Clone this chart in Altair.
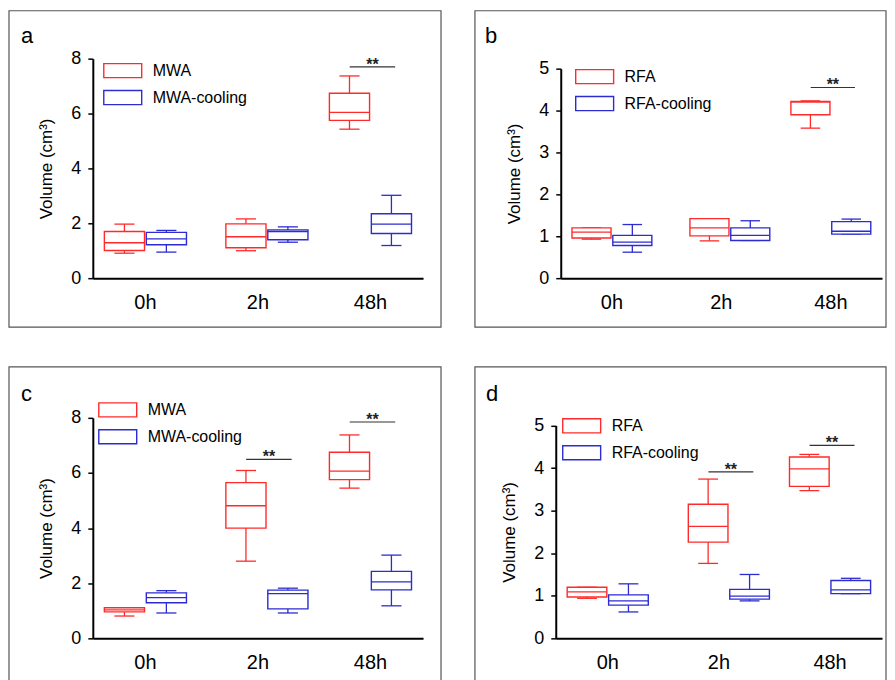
import altair as alt
import pandas as pd

TIMES = ["0h", "2h", "48h"]
MWA_GROUPS = ["MWA", "MWA-cooling"]
RFA_GROUPS = ["RFA", "RFA-cooling"]
COLORS = ["#ff2b2b", "#2c2cd2"]
FONT = "Liberation Sans"

# order of boxes: 0h g1, 0h g2, 2h g1, 2h g2, 48h g1, 48h g2
A_LO = [0.91, 0.95, 1.00, 1.31, 5.43, 1.19]
A_Q1 = [1.01, 1.22, 1.11, 1.40, 5.75, 1.63]
A_MED = [1.29, 1.43, 1.51, 1.70, 6.04, 1.97]
A_Q3 = [1.70, 1.67, 1.98, 1.76, 6.74, 2.35]
A_HI = [1.97, 1.74, 2.16, 1.87, 7.37, 3.02]
A_SIG_T = ["48h"]
A_SIG_Y = [7.70]

B_LO = [0.93, 0.62, 0.89, 0.90, 3.58, 1.05]
B_Q1 = [0.96, 0.78, 1.01, 0.90, 3.90, 1.05]
B_MED = [1.10, 0.86, 1.20, 1.02, 4.20, 1.12]
B_Q3 = [1.20, 1.02, 1.42, 1.20, 4.22, 1.35]
B_HI = [1.20, 1.28, 1.42, 1.37, 4.23, 1.41]
B_SIG_T = ["48h"]
B_SIG_Y = [4.55]

C_LO = [0.81, 0.92, 2.80, 0.92, 5.45, 1.18]
C_Q1 = [0.96, 1.29, 4.00, 1.07, 5.76, 1.76]
C_MED = [1.03, 1.48, 4.81, 1.62, 6.07, 2.05]
C_Q3 = [1.11, 1.65, 5.65, 1.75, 6.75, 2.43]
C_HI = [1.11, 1.73, 6.09, 1.82, 7.38, 3.02]
C_SIG_T = ["2h", "48h"]
C_SIG_Y = [6.49, 7.85]

D_LO = [0.94, 0.62, 1.76, 0.88, 3.47, 1.05]
D_Q1 = [0.97, 0.78, 2.26, 0.92, 3.57, 1.05]
D_MED = [1.09, 0.88, 2.63, 0.99, 3.98, 1.14]
D_Q3 = [1.20, 1.02, 3.15, 1.15, 4.26, 1.36]
D_HI = [1.20, 1.28, 3.74, 1.50, 4.32, 1.41]
D_SIG_T = ["2h", "48h"]
D_SIG_Y = [3.91, 4.53]

A_TICKS = [0, 2, 4, 6, 8]
B_TICKS = [0, 1, 2, 3, 4, 5]

RECT_PATH = "M-1,-0.37H1V0.37H-1Z"


def offset_expr(base_dx, shift_2h):
    return {"expr": f"datum.time === '2h' ? {base_dx + shift_2h:.2f} : {base_dx:.2f}"}


def panel(letter, groups, lo, q1, med, q3, hi, sig_t, sig_y, yticks,
          w, h, ytop, frame, leg, title_dx, title_off, shift_2h):
    rows = []
    for i, t in enumerate(TIMES):
        for j, g in enumerate(groups):
            k = i * 2 + j
            rows.append(dict(time=t, group=g, lo=lo[k], q1=q1[k], med=med[k],
                             q3=q3[k], hi=hi[k]))
    df = pd.DataFrame(rows)
    sig = pd.DataFrame({"time": sig_t, "y": sig_y})
    ymax = yticks[-1]

    x = alt.X("time:N",
              scale=alt.Scale(domain=TIMES, paddingInner=0.265, paddingOuter=0.1),
              axis=alt.Axis(title=None, ticks=False, labelAngle=0,
                            labelFontSize=20, labelPadding=14,
                            domainWidth=2, domainColor="black",
                            labelColor="black", labelFont=FONT))
    yscale = alt.Scale(domain=[0, ymax], nice=False, zero=True,
                       range=[h, ytop])
    yaxis = alt.Axis(title="Volume (cm³)", values=yticks, grid=False,
                     tickSize=5, tickWidth=1.5, tickColor="black",
                     domainWidth=2, domainColor="black",
                     labelFontSize=18, labelPadding=7, labelColor="black",
                     labelFont=FONT,
                     titleFontSize=17, titleFontWeight="normal", titleFont=FONT,
                     titleColor="black", titlePadding=15)
    stroke = alt.Stroke("group:N",
                        scale=alt.Scale(domain=groups, range=COLORS),
                        legend=alt.Legend(
                            title=None, orient="none",
                            legendX=leg[0], legendY=leg[1],
                            symbolType=RECT_PATH, symbolSize=1444,
                            symbolStrokeWidth=1.4,
                            symbolFillColor="white",
                            labelFontSize=16, labelFont=FONT,
                            labelColor="black", labelOffset=10,
                            clipHeight=27, rowPadding=0, padding=0))
    color = alt.Color("group:N", scale=alt.Scale(domain=groups, range=COLORS),
                      legend=None)

    band = w / 2.935 * 0.735          # width of one time group in px
    box_w = band / 2 - 1.2
    shift = band / 4 + 0.3
    layers = []
    for j, g in enumerate(groups):
        dx = offset_expr(-shift if j == 0 else shift, shift_2h)
        base = alt.Chart(df).transform_filter(alt.datum.group == g)
        layers += [
            base.mark_rule(strokeWidth=1.3, xOffset=dx).encode(
                x=x, y=alt.Y("lo:Q", scale=yscale, axis=yaxis),
                y2="q1:Q", color=color),
            base.mark_rule(strokeWidth=1.3, xOffset=dx).encode(
                x=x, y=alt.Y("q3:Q", scale=yscale), y2="hi:Q", color=color),
            base.mark_tick(size=box_w / 2, thickness=1.3, opacity=1,
                           xOffset=dx).encode(
                x=x, y=alt.Y("lo:Q", scale=yscale), color=color),
            base.mark_tick(size=box_w / 2, thickness=1.3, opacity=1,
                           xOffset=dx).encode(
                x=x, y=alt.Y("hi:Q", scale=yscale), color=color),
            base.mark_bar(strokeWidth=1.4, width=box_w, xOffset=dx,
                          fill="white").encode(
                x=x, y=alt.Y("q1:Q", scale=yscale), y2="q3:Q",
                stroke=stroke),
            base.mark_tick(size=box_w, thickness=1.3, opacity=1,
                           xOffset=dx).encode(
                x=x, y=alt.Y("med:Q", scale=yscale), color=color),
        ]

    sdx = offset_expr(2, shift_2h)
    sbase = alt.Chart(sig)
    sline = sbase.mark_tick(size=band * 0.55, thickness=1.2, opacity=1,
                            color="#333333", xOffset=sdx).encode(
        x=x, y=alt.Y("y:Q", scale=yscale))
    stext = sbase.mark_text(text="**", fontSize=16, fontWeight="bold",
                            font=FONT, color="#222222", baseline="alphabetic",
                            dy=3, xOffset=sdx).encode(
        x=x, y=alt.Y("y:Q", scale=yscale))

    fl, ft, fr, fb = frame
    frame_rect = alt.Chart(alt.Data(values=[{"k": 1}])).mark_rect(
        fill="transparent", stroke="#555555", strokeWidth=1.2).encode(
        x=alt.value(-fl), x2=alt.value(w + fr),
        y=alt.value(-ft), y2=alt.value(h + fb))

    return alt.layer(frame_rect, *layers, sline, stext).resolve_scale(
        color="independent").properties(
        width=w, height=h,
        title=alt.TitleParams(letter, anchor="start", frame="group",
                              dx=title_dx, offset=title_off, fontSize=22,
                              fontWeight="normal", font=FONT, color="black"))


pa = panel("a", MWA_GROUPS, A_LO, A_Q1, A_MED, A_Q3, A_HI, A_SIG_T, A_SIG_Y,
           A_TICKS, 331, 220, 0, (84, 48, 18, 49), (10, -1.5), -72, -38, 9)
pb = panel("b", RFA_GROUPS, B_LO, B_Q1, B_MED, B_Q3, B_HI, B_SIG_T, B_SIG_Y,
           B_TICKS, 322, 220, 10, (86, 48, 4, 49), (14, 4.5), -76, -38, 8.5)
pc = panel("c", MWA_GROUPS, C_LO, C_Q1, C_MED, C_Q3, C_HI, C_SIG_T, C_SIG_Y,
           A_TICKS, 331, 221, 0, (84, 51, 18, 55), (5, -21.5), -72, -40, 9)
pd_ = panel("d", RFA_GROUPS, D_LO, D_Q1, D_MED, D_Q3, D_HI, D_SIG_T, D_SIG_Y,
            B_TICKS, 327, 221, 7.6, (81, 51, 4, 55), (6, -5.5), -70, -40, 10)

row1 = alt.hconcat(pa, pb, spacing=32).resolve_scale(
    stroke="independent", color="independent").resolve_legend(
    stroke="independent")
row2 = alt.hconcat(pc, pd_, spacing=32).resolve_scale(
    stroke="independent", color="independent").resolve_legend(
    stroke="independent")

chart = alt.vconcat(row1, row2, spacing=38).resolve_scale(
    stroke="independent", color="independent").resolve_legend(
    stroke="independent").configure(
    padding={"left": 0, "top": 1, "right": 0, "bottom": 0},
    background="white",
).configure_view(stroke=None).configure_mark(color="white")

chart.save("out.html", embed_options={"renderer": "svg", "actions": False})
